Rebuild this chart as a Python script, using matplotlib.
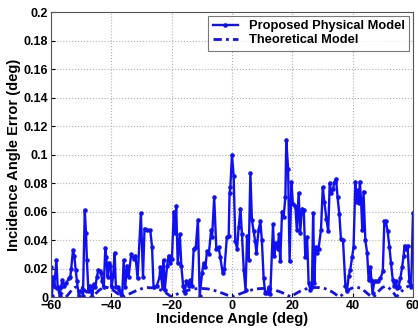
import matplotlib
matplotlib.use('Agg')
import matplotlib.pyplot as plt

plt.rcParams['font.family'] = ['Liberation Sans', 'DejaVu Sans']
plt.rcParams['font.weight'] = 'bold'

# proposed physical model: (angle, error)
prop_x = [-60, -59.7, -59.3, -58.9, -58.2, -57.8, -57.1, -56.7, -56.2, -55.6, -54.9, -54.1, -53.6,
          -53.3, -52.7, -52.3, -51.8, -51.4, -50.8, -50.3, -49.7, -49.4, -48.8, -48.4, -48.1, -47.6,
          -47.2, -46.7, -46.3, -45.9, -45.3, -44.8, -44.3, -43.9, -43.4, -43, -42.5, -42, -41.7,
          -41.2, -40.8, -40.3, -39.9, -39.4, -38.9, -38.5, -37.9, -37.3, -36.8, -36.4, -35.9, -35.4,
          -34.8, -34.3, -33.4, -32.6, -32, -31.3, -30.2, -29.5, -29, -28.2, -27.1, -26.5, -26,
          -24.9, -24, -23.8, -23, -22.7, -22.3, -21.5, -21, -20.4, -19.9, -19.3, -18.9, -18.5, -18,
          -17.3, -16.8, -16.2, -15.7, -15.1, -14.4, -13.8, -13.3, -12.7, -12, -11.3, -10.7, -9.9,
          -9.4, -8.8, -8.3, -7.7, -6.9, -6.6, -5.9, -5.2, -4.4, -3.9, -3.1, -2.5, -1.7, -1.1, -0.8,
          -0.55, 0, 0.55, 1.1, 1.7, 2.2, 2.8, 3.3, 3.9, 4.5, 5, 5.5, 6.1, 6.6, 7.2, 7.7, 8.1, 8.8,
          9.4, 9.9, 10.5, 11, 11.6, 12.2, 12.7, 13.6, 14, 14.5, 15.1, 15.6, 16, 16.6, 17.1, 17.7,
          18, 18.6, 19.1, 19.7, 20.2, 21, 21.5, 22.1, 22.6, 23.2, 23.8, 24.3, 24.9, 25.4, 26, 26.5,
          26.9, 27.3, 27.7, 28.2, 28.7, 29.5, 30.1, 30.6, 31.3, 31.9, 32.4, 32.9, 33.5, 34, 34.5,
          35, 35.6, 36.1, 36.8, 37.6, 38.1, 38.7, 39.2, 39.8, 40.3, 40.9, 41.2, 41.7, 42, 42.4,
          42.8, 43.2, 43.6, 44.2, 44.8, 45.3, 45.9, 46.2, 46.6, 47.2, 47.8, 48.4, 49.2, 50, 50.5,
          51, 51.6, 52.2, 52.7, 53.3, 53.8, 54.3, 54.7, 55.2, 55.8, 56.4, 56.9, 57.2, 57.8, 58.2,
          58.8, 59.4, 60]
prop_y = [0.021, 0.001, 0.014, 0.008, 0.026, 0.007, 0.001, 0.007, 0.012, 0.008, 0.010, 0.013, 0.014,
          0.020, 0.033, 0.029, 0.019, 0.011, 0.001, 0.004, 0.004, 0.001, 0.061, 0.045, 0.026, 0.004,
          0.008, 0.004, 0.000, 0.009, 0.007, 0.014, 0.019, 0.018, 0.017, 0.011, 0.007, 0.0345, 0.028,
          0.014, 0.024, 0.022, 0.007, 0.015, 0.031, 0.007, 0.007, 0.005, 0.002, 0.001, 0.026, 0.007,
          0.022, 0.014, 0.030, 0.027, 0.029, 0.013, 0.059, 0.014, 0.048, 0.047, 0.047, 0.035, 0.007,
          0.008, 0.014, 0.021, 0.006, 0.026, 0.005, 0.022, 0.029, 0.024, 0.027, 0.060, 0.045, 0.064, 0.024,
          0.044, 0.022, 0.008, 0.003, 0.011, 0.008, 0.012, 0.008, 0.034, 0.035, 0.054, 0.001, 0.017,
          0.024, 0.021, 0.032, 0.030, 0.047, 0.042, 0.070, 0.034, 0.035, 0.028, 0.017, 0.020, 0.042, 0.043, 0.073,
          0.077, 0.100, 0.085, 0.039, 0.034, 0.049, 0.062, 0.044, 0.019, 0.005, 0.043, 0.026, 0.087, 0.054, 0.046, 0.039, 0.031, 0.047,
          0.053, 0.040, 0.013, 0.003, 0.003, 0.007, 0.002, 0.051, 0.029, 0.038, 0.034, 0.044, 0.025, 0.060, 0.056, 0.070,
          0.110, 0.090, 0.025, 0.081, 0.065, 0.064, 0.047, 0.073, 0.045, 0.062, 0.061, 0.028, 0.042, 0.010, 0.005, 0.007,
          0.059, 0.010, 0.035, 0.031, 0.034, 0.047, 0.077, 0.067, 0.055, 0.046, 0.080, 0.073, 0.076, 0.081, 0.083,
          0.070, 0.058, 0.041, 0.040, 0.008, 0.004, 0.015, 0.019, 0.028, 0.035, 0.081, 0.067, 0.075, 0.066, 0.081,
          0.067, 0.047, 0.074, 0.040, 0.031, 0.012, 0.021, 0.012, 0.003, 0.011, 0.011, 0.011, 0.013, 0.018, 0.053,
          0.053, 0.046, 0.035, 0.024, 0.012, 0.008, 0.011, 0.006, 0.007, 0.013, 0.021, 0.029, 0.036, 0.034, 0.036,
          0.011, 0.007, 0.059]

# theoretical model
theo_x = [-60, -59, -58, -57, -56, -55, -54, -53, -52, -51, -50, -49, -48, -47, -46.5, -46, -45, -44,
          -43, -42, -41, -40, -39, -38, -37, -36, -35, -34, -32, -30, -28, -26, -24, -22, -20, -18,
          -16, -14, -12, -10, -8, -6, -4, -2, 0, 2, 4, 6, 8, 10, 12, 14, 16, 18, 19.5, 21, 23, 25,
          27, 29, 31, 33, 34, 35.5, 36.5, 37.5, 38.5, 39.5, 40.5, 41.5, 42.5, 43.5, 44.5, 45.5, 46.3,
          47, 47.8, 48.8, 49.8, 50.8, 51.8, 52.8, 53.8, 54.5, 55.3, 56.3, 57.3, 58.3, 59.3, 60]
theo_y = [0.0085, 0.0072, 0.0055, 0.0035, 0.0015, 0.0, 0.0025, 0.0052, 0.0068, 0.0074, 0.0068, 0.0052,
          0.003, 0.0008, 0.0, 0.0008, 0.0028, 0.0048, 0.0062, 0.0068, 0.0065, 0.0056, 0.0042, 0.0026,
          0.0011, 0.0, 0.0011, 0.0022, 0.0042, 0.0058, 0.0066, 0.0064, 0.0052, 0.003, 0.0, 0.0022,
          0.0038, 0.005, 0.0058, 0.006, 0.0057, 0.0047, 0.0033, 0.0017, 0.0, 0.0017, 0.0033, 0.0047,
          0.0057, 0.006, 0.0058, 0.005, 0.0036, 0.0018, 0.0, 0.0022, 0.0045, 0.006, 0.0067, 0.0066,
          0.0058, 0.0038, 0.0025, 0.0, 0.0015, 0.0032, 0.0048, 0.006, 0.0067, 0.0068, 0.0063, 0.005,
          0.0032, 0.0014, 0.0003, 0.0, 0.0018, 0.0045, 0.0066, 0.0075, 0.0068, 0.0048, 0.0022, 0.0,
          0.0018, 0.0042, 0.006, 0.0074, 0.0082, 0.0085]

fig = plt.figure(figsize=(4.18, 3.32), dpi=100)
ax = fig.add_axes([0.122, 0.1054, 0.866, 0.8584])

ax.plot(prop_x, prop_y, '-', color='#1010f0', lw=1.7, marker='.', ms=4.5,
        label='Proposed Physical Model')
ax.plot(theo_x, theo_y, '-.', color='#1010f0', lw=2.0, dashes=[3, 1.5, 1, 1.5],
        label='Theoretical Model')

ax.set_xlim(-60, 60)
ax.set_ylim(0, 0.2)
ax.set_xticks(range(-60, 61, 20))
ax.set_yticks([0, 0.02, 0.04, 0.06, 0.08, 0.1, 0.12, 0.14, 0.16, 0.18, 0.2])
ax.set_yticklabels(['0', '0.02', '0.04', '0.06', '0.08', '0.1', '0.12', '0.14', '0.16', '0.18', '0.2'])
ax.tick_params(direction='in', labelsize=9, length=3, pad=2)
ax.grid(True, linestyle=':', color='#b0b0b0', lw=0.8)
for s in ax.spines.values():
    s.set_color('#555555')

ax.set_xlabel('Incidence Angle (deg)', fontsize=10.5, fontweight='bold', labelpad=0)
ax.set_ylabel('Incidence Angle Error (deg)', fontsize=10.5, fontweight='bold', labelpad=2)

leg = ax.legend(loc='upper right', fontsize=9.3, frameon=True, fancybox=False,
                borderaxespad=0.3, handlelength=2.0, borderpad=0.35, labelspacing=0.15)
leg.get_frame().set_edgecolor('#555555')
leg.get_frame().set_linewidth(0.8)

fig.savefig('out.png', dpi=100)
